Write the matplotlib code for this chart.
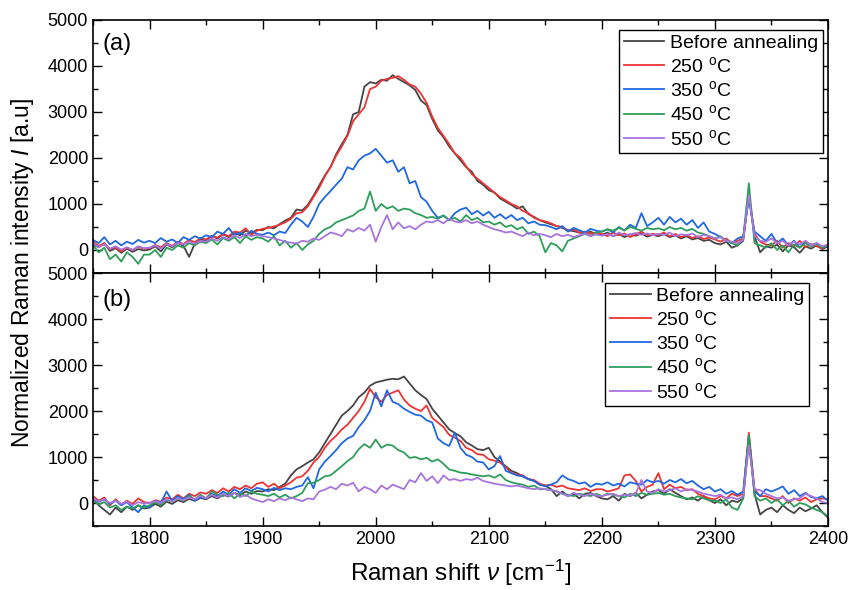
import numpy as np
import matplotlib
matplotlib.use("Agg")
import matplotlib.pyplot as plt
from matplotlib.ticker import MultipleLocator

plt.rcParams['font.family'] = ['Liberation Sans', 'DejaVu Sans']
plt.rcParams['mathtext.fontset'] = 'custom'
plt.rcParams['mathtext.rm'] = 'Liberation Sans'
plt.rcParams['mathtext.it'] = 'Liberation Sans:italic'

# ---------------- data ----------------
wavenumber = np.arange(1750, 2401, 5)

labels = ["Before annealing", "250 $^{\\mathrm{o}}$C", "350 $^{\\mathrm{o}}$C",
          "450 $^{\\mathrm{o}}$C", "550 $^{\\mathrm{o}}$C"]
colors = ["#454545", "#ec3434", "#1f68e0", "#2e9e5c", "#a874de"]

a_before = [120, 60, 150, -20, 40, -60, 30, -40, 20, -10,
            10, 80, -30, 120, 60, 150, 90, -150, 140, 230,
            200, 310, 250, 340, 280, 380, 320, 420, 360, 440,
            430, 500, 470, 560, 640, 700, 880, 860, 980, 1180,
            1400, 1620, 1800, 2080, 2300, 2500, 2950, 3000, 3550, 3650,
            3620, 3700, 3680, 3800, 3720, 3650, 3580, 3480, 3250, 3150,
            2850, 2600, 2450, 2250, 2100, 1950, 1800, 1700, 1500, 1420,
            1300, 1250, 1120, 1050, 980, 900, 950, 780, 720, 650,
            600, 560, 520, 480, 430, 410, 380, 360, 400, 340,
            330, 380, 300, 350, 280, 340, 310, 360, 290, 330,
            300, 350, 280, 320, 250, 300, 230, 260, 200, 220,
            150, 120, 180, 50, 100, 200, 1200, 300, -50, 80,
            50, 120, -30, 100, 60, -60, 80, 30, 100, 20,
            80]
a_250 = [180, 90, 140, 20, 60, -30, 50, 0, 70, 30,
         40, 110, 60, 150, 90, 180, 130, 220, 170, 260,
         230, 300, 270, 350, 300, 400, 380, 470, 330, 420,
         460, 480, 510, 550, 600, 680, 800, 820, 950, 1150,
         1350, 1600, 1800, 2050, 2250, 2480, 2800, 2950, 3100, 3500,
         3550, 3680, 3720, 3740, 3780, 3700, 3600, 3550, 3400, 3200,
         2900, 2650, 2480, 2300, 2100, 2000, 1820, 1650, 1550, 1450,
         1350, 1250, 1150, 1080, 1000, 950, 850, 800, 700, 650,
         620, 580, 520, 500, 420, 450, 380, 400, 350, 380,
         350, 300, 380, 320, 360, 280, 340, 400, 320, 350,
         330, 380, 300, 350, 280, 330, 260, 300, 240, 270,
         230, 180, 250, 150, 200, 250, 1200, 350, 180, 120,
         100, 200, 50, 150, 80, 200, 60, 130, 80, 40,
         120]
a_350 = [220, 150, 280, 120, 200, 100, 180, 130, 220, 160,
         200, 150, 260, 180, 230, 150, 280, 220, 300, 250,
         320, 280, 400, 350, 480, 320, 380, 300, 420, 350,
         330, 380, 320, 400, 370, 550, 700, 620, 500, 720,
         1000, 1150, 1280, 1420, 1550, 1800, 1750, 1950, 2050, 2100,
         2200, 2050, 1900, 1950, 1700, 1800, 1450, 1500, 1150, 1050,
         850, 700, 750, 650, 800, 880, 920, 780, 850, 750,
         830, 700, 780, 680, 760, 650, 700, 580, 620, 550,
         540, 500, 450, 520, 400, 480, 430, 380, 460, 420,
         400, 450, 380, 500, 420, 550, 480, 800, 520, 600,
         700, 550, 720, 600, 680, 550, 650, 480, 600, 400,
         350, 280, 200, 150, 250, 300, 1120, 400, 300, 200,
         350, 150, 250, 100, 200, 50, 180, 100, 150, 60,
         100]
a_450 = [100, -50, 50, -200, -100, -250, -50, -150, -300, -100,
         -100, 0, -150, 50, 0, 100, 50, 150, 100, 180,
         150, 230, 120, 260, 200, 280, 150, 300, 220, 280,
         250, 180, 300, 100, 200, 50, 150, 0, 120, 200,
         350, 450, 500, 600, 650, 700, 750, 850, 900, 1270,
         850, 1000, 900, 950, 850, 900, 880, 800, 760, 700,
         720, 680, 750, 650, 700, 620, 760, 650, 700, 600,
         620, 550, 600, 500, 540, 450, 500, 350, 400, 300,
         -50, 150, 100, -30, 200, 250, 300, 350, 300, 380,
         400, 450, 420, 480, 430, 500, 460, 420, 480, 450,
         470, 430, 500, 450, 480, 420, 460, 380, 350, 300,
         250, 300, 200, 150, 100, 250, 1450, 150, 100, 50,
         150, 0, 100, -50, 120, 50, 150, 80, 130, 60,
         100]
a_550 = [150, 60, 120, 30, 80, 10, 60, 0, 80, 40,
         50, 100, 30, 130, 80, 150, 120, 180, 140, 200,
         180, 250, 200, 280, 230, 320, 260, 350, 300, 330,
         300, 280, 250, 220, 180, 160, 140, 200, 180, 250,
         220, 300, 380, 350, 300, 450, 400, 480, 420, 550,
         180, 500, 760, 450, 600, 470, 520, 450, 550, 620,
         600, 650, 580, 680, 620, 600, 650, 580, 620, 550,
         500, 450, 420, 380, 400, 350, 300, 380, 320, 350,
         320, 280, 350, 300, 330, 280, 320, 360, 300, 340,
         310, 350, 300, 380, 320, 340, 370, 330, 360, 320,
         350, 330, 380, 300, 340, 320, 360, 280, 330, 300,
         250, 280, 200, 180, 150, 220, 1190, 300, 200, 180,
         250, 150, 200, 100, 180, 120, 200, 100, 150, 80,
         120]

b_before = [100, -50, -150, -250, -100, -200, -80, -150, -50, -120,
            -100, -20, -80, 30, -20, 60, 20, 90, 50, 110,
            80, 150, 100, 180, 140, 220, 170, 250, 200, 260,
            250, 300, 280, 350, 420, 600, 730, 800, 880, 950,
            1100, 1300, 1500, 1700, 1900, 2000, 2120, 2300, 2400, 2550,
            2620, 2650, 2680, 2700, 2690, 2750, 2600, 2450, 2350, 2260,
            2050, 1900, 1750, 1600, 1520, 1450, 1320, 1250, 1170, 1150,
            1200, 1000, 900, 800, 700, 650, 580, 520, 480, 400,
            380, 300, 150, 250, 150, 200, 100, 200, 220, 150,
            100, 80, 150, 50, 200, 150, 220, 100, 180, 250,
            280, 200, 300, 220, 150, 80, 120, 50, 150, 60,
            0, 80, -50, 50, 20, 100, 1450, 200, -250, -150,
            -100, -200, -50, -150, -220, -100, -180, -120, -50, -200,
            -320]
b_250 = [150, 50, 120, -50, 80, -30, 50, -20, 100, 20,
         0, 60, 30, 120, 80, 180, 100, 200, 150, 230,
         200, 280, 220, 320, 250, 350, 300, 380, 320, 420,
         450, 350, 420, 320, 380, 450, 550, 580, 700, 880,
         1000, 1200, 1350, 1460, 1600, 1700, 1850, 2000, 2200, 2480,
         2300, 2200, 2350, 2400, 2450, 2250, 2120, 2050, 2000, 2120,
         1850, 1750, 1650, 1480, 1420, 1350, 1200, 1150, 1060, 1050,
         950, 920, 880, 780, 650, 620, 600, 520, 500, 420,
         380, 400, 350, 380, 320, 300, 280, 320, 260, 300,
         300, 250, 280, 320, 600, 620, 480, 250, 350, 400,
         650, 300, 400, 320, 350, 280, 300, 200, 150, 100,
         80, 150, 100, 200, 150, 200, 1530, 300, 150, 150,
         100, 50, 150, 0, 100, 50, 120, 20, 80, 100,
         80]
b_350 = [100, 30, 80, -20, 50, -50, 20, -100, -200, -50,
         -100, 50, 0, 250, 50, 150, 80, 180, 50, 120,
         100, 200, 150, 250, 180, 300, 220, 320, 260, 330,
         300, 250, 330, 280, 320, 300, 350, 380, 560, 320,
         730, 900, 1020, 1150, 1300, 1400, 1460, 1650, 1800, 2000,
         2400, 2100, 2450, 2200, 2150, 2050, 1980, 1920, 1900, 1800,
         1750, 1400, 1300, 1240, 1530, 1200, 1050, 1000, 900, 880,
         730, 800, 1020, 700, 650, 600, 580, 520, 480, 400,
         360, 400, 450, 600, 520, 480, 420, 450, 350, 420,
         400, 450, 380, 420, 360, 450, 420, 400, 500, 450,
         480, 420, 500, 450, 520, 430, 480, 380, 300, 350,
         250, 300, 200, 260, 180, 250, 1450, 250, 150, 300,
         250, 300, 360, 200, 280, 150, 220, 130, 100, 150,
         50]
b_450 = [50, -30, 20, -100, -50, -150, -80, -120, -50, -100,
         -50, 20, -40, 60, 30, 100, 50, 150, 80, 180,
         100, 250, 180, 150, 220, 100, 200, 150, 250, 200,
         180, 150, 200, 120, 180, 100, 150, 220, 430, 440,
         500, 580, 600, 700, 800, 910, 1000, 1170, 1280, 1200,
         1380, 1200, 1270, 1250, 1150, 1100, 980, 1000, 950, 980,
         900, 950, 850, 730, 700, 660, 650, 620, 600, 580,
         600, 550, 620, 500, 450, 420, 400, 350, 380, 300,
         300, 280, 250, 200, 180, 150, 200, 180, 150, 200,
         150, 200, 180, 150, 120, 200, 150, 220, 180, 200,
         220, 180, 200, 150, 120, 100, 80, 150, 100, 60,
         50, 0, 80, -100, -150, 100, 1470, 150, 50, 100,
         0, 80, -50, 50, -80, 0, -30, -100, -150, -200,
         -290]
b_550 = [100, 30, 80, 0, 50, -20, 30, -50, 20, -10,
         0, 40, 0, 80, 30, 100, 60, 120, 80, 150,
         100, 180, 120, 200, 150, 220, 130, 180, 100, 60,
         20, 80, 40, 100, 60, 120, 80, 40, 100, 80,
         250, 290, 350, 300, 420, 380, 440, 250, 350, 300,
         220, 380, 300, 400, 350, 300, 500, 450, 650, 480,
         580, 430, 600, 500, 520, 480, 520, 500, 550, 480,
         450, 420, 400, 380, 360, 380, 350, 320, 300, 320,
         300, 280, 260, 200, 150, 220, 180, 150, 200, 160,
         150, 180, 200, 150, 180, 160, 200, 500, 250, 220,
         300, 250, 280, 320, 250, 300, 280, 250, 200, 180,
         150, 180, 100, 120, 80, 150, 1240, 300, 280, 200,
         150, 100, 120, 50, 80, 100, 200, 150, 100, 20,
         0]

panel_a = [a_before, a_250, a_350, a_450, a_550]
panel_b = [b_before, b_250, b_350, b_450, b_550]

# ---------------- figure ----------------
fig = plt.figure(figsize=(8.49, 5.90), dpi=100)
L, R = 93 / 849, 828 / 849
top_a, mid, bot_b = 1 - 20 / 590, 1 - 273 / 590, 1 - 526 / 590
ax_a = fig.add_axes([L, mid, R - L, top_a - mid])
ax_b = fig.add_axes([L, bot_b, R - L, mid - bot_b], sharex=ax_a)

legend_anchor = [(0.993, 0.962), (0.974, 0.962)]
for ax, series, tag, anchor in zip([ax_a, ax_b], [panel_a, panel_b], ['(a)', '(b)'], legend_anchor):
    for y, c, lab in zip(series, colors, labels):
        ax.plot(wavenumber, y, color=c, lw=1.3, label=lab)
    ax.set_xlim(1750, 2400)
    ax.set_ylim(-500, 5000)
    ax.yaxis.set_major_locator(MultipleLocator(1000))
    ax.yaxis.set_minor_locator(MultipleLocator(500))
    ax.xaxis.set_major_locator(MultipleLocator(100))
    ax.xaxis.set_minor_locator(MultipleLocator(50))
    ax.tick_params(which='both', direction='in', top=True, right=True, width=1.0, labelsize=13)
    ax.tick_params(which='major', length=6.5)
    ax.tick_params(which='minor', length=3.5)
    for sp in ax.spines.values():
        sp.set_linewidth(1.2)
    ax.text(0.013, 0.905 if tag == '(a)' else 0.893, tag, transform=ax.transAxes,
            fontsize=17, va='center', ha='left')
    leg = ax.legend(loc='upper right', bbox_to_anchor=anchor, borderaxespad=0,
                    fontsize=14, handlelength=2.1, handletextpad=0.3,
                    labelspacing=0.22, borderpad=0.22, fancybox=False,
                    framealpha=1, edgecolor='black')
    leg.get_frame().set_linewidth(1.0)

ax_a.tick_params(labelbottom=False)
ax_b.set_xlabel("Raman shift $\\nu$ [cm$^{-1}$]", fontsize=17.5, labelpad=7)
fig.text(0.026, 1 - 273 / 590, "Normalized Raman intensity $\\mathit{I}$ [a.u]",
         rotation=90, va='center', ha='center', fontsize=16.5)

fig.savefig("out.png", dpi=100)
